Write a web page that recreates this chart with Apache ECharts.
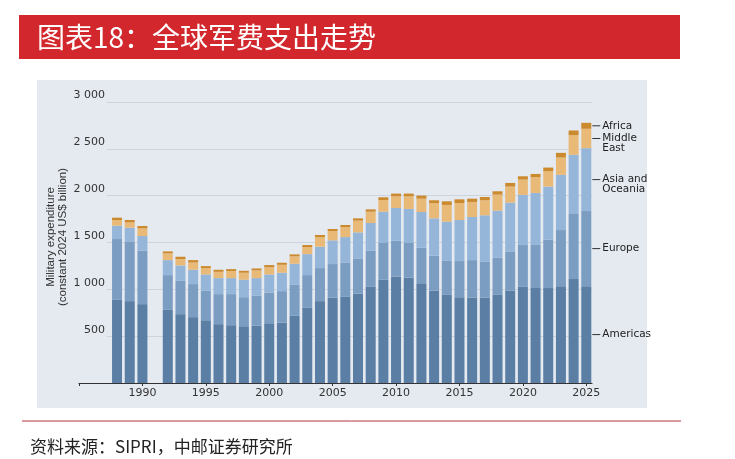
<!DOCTYPE html>
<html>
<head>
<meta charset="utf-8">
<script src="https://cdn.jsdelivr.net/npm/echarts@6/dist/echarts.min.js"></script>
<style>
html, body { margin: 0; padding: 0; background: #fff; }
#chart { width: 735px; height: 459px; }
</style>
</head>
<body>
<div id="chart"></div>
<script>
// SIPRI world military expenditure by region (1991 has no data)
var years = [1988, 1989, 1990, 1992, 1993, 1994, 1995, 1996, 1997, 1998, 1999, 2000, 2001, 2002, 2003, 2004,
    2005, 2006, 2007, 2008, 2009, 2010, 2011, 2012, 2013, 2014, 2015, 2016, 2017, 2018, 2019, 2020, 2021,
    2022, 2023, 2024, 2025];
var americas = [888, 874, 842, 781, 735, 703, 670, 628, 617, 606, 613, 638, 645, 717, 802, 874, 913, 920, 956,
    1027, 1105, 1138, 1127, 1066, 988, 941, 916, 913, 913, 941, 988, 1027, 1023, 1013, 1034, 1109, 1034];
var europe = [649, 638, 570, 371, 356, 353, 314, 321, 332, 310, 321, 328, 336, 335, 350, 353, 357, 367, 374,
    385, 396, 381, 374, 378, 371, 368, 386, 399, 385, 396, 417, 446, 450, 517, 599, 695, 802];
var asiaOceania = [143, 146, 157, 160, 164, 153, 175, 171, 171, 186, 186, 193, 196, 221, 224, 228, 253, 271, 278,
    296, 328, 350, 357, 382, 399, 413, 438, 460, 492, 503, 521, 535, 556, 567, 589, 632, 671];
var middleEast = [60, 57, 82, 72, 68, 78, 68, 67, 75, 75, 82, 78, 85, 79, 75, 103, 100, 107, 125, 121, 125, 124,
    135, 142, 161, 179, 182, 161, 161, 171, 171, 164, 168, 164, 185, 210, 207];
var africa = [25, 25, 25, 21, 25, 25, 21, 22, 21, 21, 21, 22, 22, 21, 22, 22, 21, 22, 25, 25, 29, 29, 29, 33, 32,
    39, 39, 35, 35, 36, 39, 35, 35, 39, 50, 50, 64];

var regionNames = ['Americas', 'Europe', 'Asia and\nOceania', 'Middle\nEast', 'Africa'];
var regionValues = [americas, europe, asiaOceania, middleEast, africa];
var regionColors = ['#5a7ea4', '#7b9dc2', '#95b5d9', '#e9b978', '#cc8a2f'];
var yTicks = [500, 1000, 1500, 2000, 2500, 3000];
var xTickStep = 5;

var xMin = 1985, xMax = 2025.45;
var lastYear = years[years.length - 1];

// one slot per calendar year so the axis keeps the 1991 hole
var allYears = [];
for (var yr = xMin; yr <= lastYear; yr++) allYears.push(String(yr));

var plotLeft = 79, plotRight = 592;
var pxPerYear = (plotRight - plotLeft) / (xMax - xMin);

function fmtThousands(v) {
    if (v >= 1000) {
        return Math.floor(v / 1000) + ' ' + ('00' + (v % 1000)).slice(-3);
    }
    return String(v);
}

function labelText(name) {
    var lines = name.split('\n');
    var s = '{ln|}{t|' + lines[0] + '}';
    for (var i = 1; i < lines.length; i++) {
        s += '\n{sp|}{t|' + lines[i] + '}';
    }
    return s;
}

var LH = 9.5;

var series = regionNames.map(function (name, k) {
    var vals = regionValues[k];
    var multi = name.indexOf('\n') >= 0;
    var data = allYears.map(function (y) {
        var i = years.indexOf(Number(y));
        if (i < 0) return null;
        var item = { value: vals[i] };
        if (i === years.length - 1) {
            item.label = {
                show: true,
                position: 'right',
                distance: 1,
                fontSize: 10.5,
                lineHeight: LH,
                offset: [0, multi ? LH / 2 : 0],
                formatter: labelText(name),
                rich: {
                    ln: { width: 8, height: 1, lineHeight: LH, backgroundColor: '#333' },
                    sp: { width: 8, lineHeight: LH },
                    t: {
                        padding: [0, 0, 0, 2],
                        fontFamily: 'DejaVu Sans',
                        fontSize: 10.5,
                        lineHeight: LH,
                        color: '#222'
                    }
                }
            };
        }
        return item;
    });
    return {
        name: name,
        type: 'bar',
        stack: 'total',
        xAxisIndex: 2,
        yAxisIndex: 2,
        barWidth: 10,
        clip: false,
        z: 3,
        itemStyle: { color: regionColors[k] },
        data: data
    };
});

var myChart = echarts.init(document.getElementById('chart'));

var option = {
    backgroundColor: '#ffffff',
    animation: false,
    grid: [
        // axis line / year labels
        { left: plotLeft, top: 102, width: plotRight - plotLeft, height: 281, outerBoundsMode: 'none' },
        // gridlines and value labels
        { left: 107, top: 102, width: plotRight - 107, height: 281, outerBoundsMode: 'none' },
        // bars
        { left: plotLeft, top: 102, width: pxPerYear * (lastYear - xMin), height: 281, outerBoundsMode: 'none' }
    ],
    xAxis: [
        {
            type: 'value',
            gridIndex: 0,
            min: xMin,
            max: xMax,
            interval: xTickStep,
            axisLine: { show: true, lineStyle: { color: '#333', width: 1.2 } },
            axisTick: { show: true, length: 3, lineStyle: { color: '#333' } },
            splitLine: { show: false },
            axisLabel: {
                margin: 5,
                color: '#333',
                fontFamily: 'DejaVu Sans',
                fontSize: 11,
                showMaxLabel: false,
                formatter: function (v) {
                    return (v % xTickStep === 0 && v > xMin) ? String(v) : '';
                }
            }
        },
        { type: 'value', gridIndex: 1, min: xMin, max: xMax, show: false },
        { type: 'category', gridIndex: 2, data: allYears, boundaryGap: false, show: false }
    ],
    yAxis: [
        { type: 'value', gridIndex: 0, min: 0, max: 3000, show: false },
        {
            type: 'value',
            gridIndex: 1,
            min: 0,
            max: 3000,
            interval: 500,
            axisLine: { show: false },
            axisTick: { show: false },
            splitLine: { show: true, lineStyle: { color: '#cdd4dc', width: 1 } },
            axisLabel: {
                margin: 2,
                color: '#333',
                fontFamily: 'DejaVu Sans',
                fontSize: 11,
                verticalAlign: 'bottom',
                lineHeight: 13,
                formatter: function (v) {
                    return yTicks.indexOf(v) >= 0 ? fmtThousands(v) : '';
                }
            }
        },
        { type: 'value', gridIndex: 2, min: 0, max: 3000, show: false }
    ],
    graphic: [
        { type: 'rect', z: -10, shape: { x: 19, y: 15, width: 661, height: 44 }, style: { fill: '#d2282d' } },
        {
            type: 'text', z: -9, x: 37, y: 37,
            style: {
                text: '图表18：全球军费支出走势', fill: '#fff',
                fontFamily: 'Noto Sans CJK SC', fontSize: 28, verticalAlign: 'middle'
            }
        },
        { type: 'rect', z: -10, shape: { x: 37, y: 80, width: 610, height: 328 }, style: { fill: '#e5eaf1' } },
        {
            type: 'text', z: -9, x: 57, y: 237, rotation: Math.PI / 2,
            style: {
                text: 'Military expenditure\n(constant 2024 US$ billion)', fill: '#333',
                fontFamily: 'Liberation Sans', fontSize: 11.5, lineHeight: 12,
                align: 'center', verticalAlign: 'middle'
            }
        },
        { type: 'line', z: -10, shape: { x1: 22, y1: 421, x2: 681, y2: 421 }, style: { stroke: '#b3333a', lineWidth: 1 } },
        {
            type: 'text', z: -9, x: 30, y: 447,
            style: {
                text: '资料来源：SIPRI，中邮证券研究所', fill: '#222',
                fontFamily: 'Noto Sans CJK SC', fontSize: 17, verticalAlign: 'middle'
            }
        }
    ],
    series: series
};

myChart.setOption(option);
</script>
</body>
</html>
